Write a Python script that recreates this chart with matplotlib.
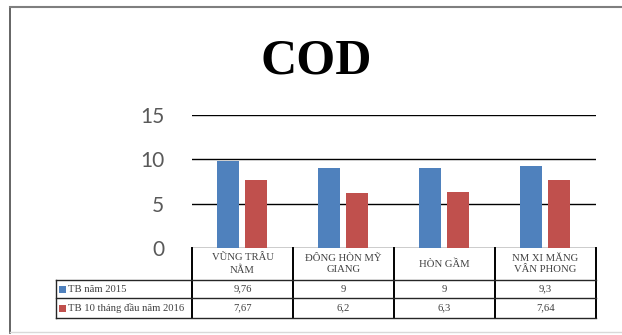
import matplotlib
matplotlib.use("Agg")
import matplotlib.pyplot as plt
from matplotlib.lines import Line2D
from matplotlib.patches import Rectangle
import matplotlib.transforms as mtransforms

categories = ["VŨNG TRÂU\nNẰM", "ĐÔNG HÒN MỸ\nGIANG", "HÒN GẦM", "NM XI MĂNG\nVÂN PHONG"]
series_names = ["TB năm 2015", "TB 10 tháng đầu năm 2016"]
values_2015 = [9.76, 9, 9, 9.3]
values_2016 = [7.67, 6.2, 6.3, 7.64]
yticks = [0, 5, 10, 15]
title = "COD"

colors = ["#4F81BD", "#C0504D"]

W, H = 622, 335
fig = plt.figure(figsize=(W / 100, H / 100), dpi=100)

def fx(px):
    return px / W

def fy(py):
    return 1 - py / H

# outer frame
fig.add_artist(Line2D([fx(10), fx(10)], [fy(7), fy(333)], color="#4a4a4a", lw=1.2))
fig.add_artist(Line2D([fx(10), 1], [fy(7), fy(7)], color="#7f7f7f", lw=1.5))
fig.add_artist(Line2D([fx(10), 1], [fy(332), fy(332)], color="#d9d9d9", lw=1.0))

ax_l, ax_r, ax_t, ax_b = 192, 596, 115, 248
ax = fig.add_axes([fx(ax_l), fy(ax_b), fx(ax_r - ax_l), (ax_b - ax_t) / H])

x = list(range(len(categories)))
bw = 0.22
off = 0.14
ax.bar([i - off for i in x], values_2015, width=bw, color=colors[0], zorder=3)
ax.bar([i + off - 0.005 for i in x], values_2016, width=bw, color=colors[1], zorder=3)

ax.set_xlim(-0.5, len(categories) - 0.5)
ax.set_ylim(0, 15)
ax.set_yticks(yticks)
ax.set_yticklabels([str(t) for t in yticks], fontsize=15, color="#595959", family="Lato")
ax.tick_params(axis="y", length=0, pad=20)
ax.set_xticks([])
for s in ax.spines.values():
    s.set_visible(False)
for t in yticks:
    ax.axhline(t, color="black", lw=1.0, zorder=1)

# title
fig.text(fx(316), fy(61), title, fontsize=36, fontweight="bold", family="Liberation Serif",
         ha="center", va="center", color="black")

# data table
axh = ax_b - ax_t
def ay(py):
    return -(py - ax_b) / axh

trans = mtransforms.blended_transform_factory(ax.transData, ax.transAxes)
r0, r1, r2, r3 = ay(248), ay(280), ay(298), ay(318)

tcol = "#404040"
tfont = dict(family="Liberation Serif", fontsize=7.7, color=tcol)

for b in [-0.5 + k for k in range(len(categories) + 1)]:
    ax.add_line(Line2D([b, b], [r0, r3], transform=trans, color="black", lw=1.4, clip_on=False))
leg_left = fx(56)
for py in [280, 298, 318]:
    fig.add_artist(Line2D([leg_left, fx(ax_r)], [fy(py), fy(py)], color="#262626", lw=1.0))
fig.add_artist(Line2D([leg_left, leg_left], [fy(280), fy(318)], color="#262626", lw=1.0))

for i, c in enumerate(categories):
    ax.text(i, (r0 + r1) / 2, c, transform=trans, ha="center", va="center",
            linespacing=1.35, clip_on=False, **tfont)

def fmt(v):
    return ("%g" % v).replace(".", ",")

rows = [values_2015, values_2016]
row_mid = [(r1 + r2) / 2, (r2 + r3) / 2]
row_mid_px = [289, 308]
for k, vals in enumerate(rows):
    for i, v in enumerate(vals):
        ax.text(i, row_mid[k], fmt(v), transform=trans, ha="center", va="center",
                clip_on=False, **tfont)
    fig.add_artist(Rectangle((fx(59), fy(row_mid_px[k]) - 3.5 / H), 7 / W, 7 / H,
                             color=colors[k], lw=0))
    fig.text(fx(68), fy(row_mid_px[k]), series_names[k], ha="left", va="center", **tfont)

fig.savefig("out.png", dpi=100)
